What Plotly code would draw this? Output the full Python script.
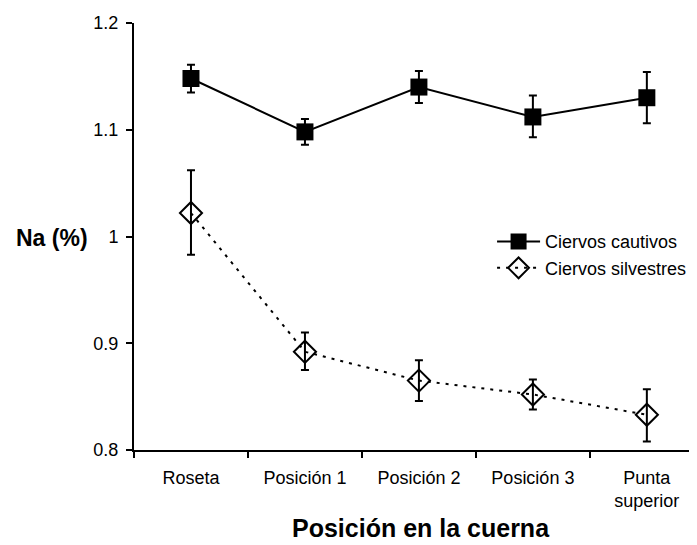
import plotly.graph_objects as go

categories = ["Roseta", "Posición 1", "Posición 2", "Posición 3", "Punta<br>superior"]
cautivos = [1.148, 1.098, 1.140, 1.112, 1.130]
cautivos_err_plus = [0.013, 0.012, 0.015, 0.020, 0.024]
cautivos_err_minus = [0.013, 0.012, 0.015, 0.019, 0.024]
silvestres = [1.022, 0.892, 0.865, 0.852, 0.833]
silvestres_err_plus = [0.040, 0.018, 0.019, 0.014, 0.024]
silvestres_err_minus = [0.039, 0.017, 0.019, 0.014, 0.025]
y_ticks = [0.8, 0.9, 1.0, 1.1, 1.2]

fig = go.Figure()
fig.add_trace(go.Scatter(
    x=categories, y=cautivos, name="Ciervos cautivos", mode="lines+markers",
    line=dict(color="black", width=2),
    marker=dict(symbol="square", size=17, color="black"),
    error_y=dict(type="data", symmetric=False, array=cautivos_err_plus,
                 arrayminus=cautivos_err_minus, color="black", thickness=2, width=4),
))
fig.add_trace(go.Scatter(
    x=categories, y=silvestres, name="Ciervos silvestres", mode="lines+markers",
    line=dict(color="black", width=2, dash="3px,6px"),
    marker=dict(symbol="diamond-open", size=17, color="black", line=dict(width=2)),
    error_y=dict(type="data", symmetric=False, array=silvestres_err_plus,
                 arrayminus=silvestres_err_minus, color="black", thickness=2, width=4),
))

fig.update_layout(
    width=697, height=545,
    margin=dict(l=126, r=8, t=15, b=103),
    paper_bgcolor="white", plot_bgcolor="white",
    font=dict(family="Liberation Sans, Arial, sans-serif", size=18, color="black"),
    showlegend=True,
    legend=dict(x=0.636, y=0.531, xanchor="left", yanchor="top", itemwidth=43,
                font=dict(size=18), bgcolor="rgba(0,0,0,0)", tracegroupgap=0),
    xaxis=dict(type="category", range=[-0.5, 4.44], showline=True, linecolor="black",
               linewidth=2, ticks="outside", tickson="boundaries", ticklen=6,
               tickwidth=2, tickcolor="black", showgrid=False, zeroline=False,
               ticklabelstandoff=10, tickfont=dict(size=18), automargin=False),
    yaxis=dict(range=[0.8, 1.2], tickvals=y_ticks, showline=True, linecolor="black",
               linewidth=2, ticks="outside", ticklen=6, tickwidth=2, tickcolor="black",
               showgrid=False, zeroline=False, tickfont=dict(size=18),
               ticklabelstandoff=4, automargin=False),
    annotations=[
        dict(text="<b>Na (%)</b>", x=-0.1456, y=0.4965, xref="paper", yref="paper",
             xanchor="center", yanchor="middle", showarrow=False, font=dict(size=23)),
        dict(text="<b>Posición en la cuerna</b>", x=0.5098, y=-0.1827, xref="paper",
             yref="paper", xanchor="center", yanchor="middle", showarrow=False,
             font=dict(size=25)),
    ],
)

fig.write_html("out.html")
